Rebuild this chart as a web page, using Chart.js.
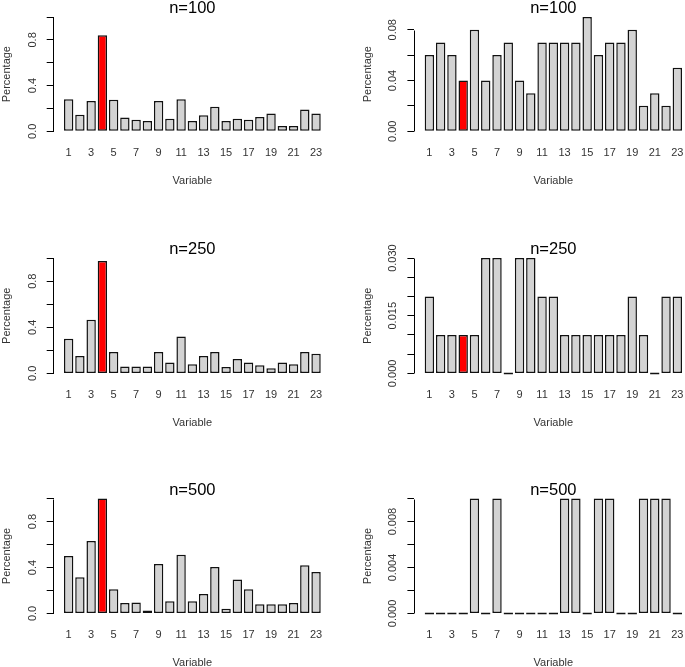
<!DOCTYPE html>
<html>
<head>
<meta charset="utf-8">
<script src="https://cdn.jsdelivr.net/npm/chart.js@4"></script>
<style>
html, body { margin: 0; padding: 0; background: #fff; overflow: hidden; width: 685px; height: 667px; }
#wrap { position: relative; width: 685px; height: 667px; overflow: hidden; background: #fff; }
#wrap canvas { position: absolute; }
</style>
</head>
<body>
<div id="wrap"></div>
<script>
// ---------------- data ----------------
const categories = ['1','2','3','4','5','6','7','8','9','10','11','12','13','14','15','16','17','18','19','20','21','22','23'];
const xTickLabels = ['1','3','5','7','9','11','13','15','17','19','21','23'];
const highlightCategory = '4';

const titles = ['n=100', 'n=250', 'n=500'];

// left column
const pctLeft100 = [0.28,0.145,0.265,0.84,0.275,0.12,0.10,0.09,0.265,0.11,0.28,0.09,0.14,0.215,0.09,0.11,0.10,0.125,0.155,0.045,0.045,0.19,0.155];
const pctLeft250 = [0.30,0.15,0.465,0.975,0.185,0.06,0.06,0.06,0.185,0.095,0.32,0.08,0.15,0.185,0.055,0.125,0.095,0.07,0.045,0.095,0.08,0.185,0.17];
const pctLeft500 = [0.50,0.315,0.63,1.0,0.21,0.09,0.095,0.025,0.43,0.105,0.51,0.105,0.17,0.405,0.04,0.295,0.21,0.08,0.08,0.08,0.09,0.42,0.36];

// right column
const pctRight100 = [0.06,0.07,0.06,0.04,0.08,0.04,0.06,0.07,0.04,0.03,0.07,0.07,0.07,0.07,0.09,0.06,0.07,0.07,0.08,0.02,0.03,0.02,0.05];
const pctRight250 = [0.02,0.01,0.01,0.01,0.01,0.03,0.03,0,0.03,0.03,0.02,0.02,0.01,0.01,0.01,0.01,0.01,0.01,0.02,0.01,0,0.02,0.02];
const pctRight500 = [0,0,0,0,0.01,0,0.01,0,0,0,0,0,0.01,0.01,0,0.01,0.01,0,0,0.01,0.01,0.01,0];

// y-axis limits and ticks
const yLimitLeft = 1.0;
const yTicksLeft = [0,0.2,0.4,0.6,0.8,1.0];
const yTickLabelsLeft = ['0.0','','0.4','','0.8',''];

const yLimitRight100 = 0.09;
const yTicksRight100 = [0,0.02,0.04,0.06,0.08];
const yTickLabelsRight100 = ['0.00','','0.04','','0.08'];

const yLimitRight250 = 0.03;
const yTicksRight250 = [0,0.005,0.01,0.015,0.02,0.025,0.03];
const yTickLabelsRight250 = ['0.000','','','0.015','','','0.030'];

const yLimitRight500 = 0.01;
const yTicksRight500 = [0,0.002,0.004,0.006,0.008,0.010];
const yTickLabelsRight500 = ['0.000','','0.004','','0.008',''];

const xAxisTitle = 'Variable';
const yAxisTitle = 'Percentage';

// ---------------- layout / style ----------------
const FONT = "'Liberation Sans', Arial, Helvetica, sans-serif";
const AXIS_FONT_SIZE = 11;
const TITLE_FONT_SIZE = 16.5;
const TITLE_PAD_BOTTOM = -4.25;
const TEXT_COLOR = '#333';
const BAR_GREY = '#D3D3D3';
const BAR_RED = '#FF0000';

const colL = [53.7, 414.4];
const colR = [331.0, 692.3];
const colX = [0, 342];
const colW = [342, 352];
const rowT = [12.5, 253.5, 494];
const rowB = [135.8, 378, 618];
const XAXIS_H = 51.6;
const YAXIS_W = 53.1;
const TICK_LEN = 7;
const YLABEL_OFFSET = 21;

const panels = [
  { row: 0, col: 0, title: titles[0], values: pctLeft100, ylim: yLimitLeft, yTicks: yTicksLeft, yLabels: yTickLabelsLeft },
  { row: 0, col: 1, title: titles[0], values: pctRight100, ylim: yLimitRight100, yTicks: yTicksRight100, yLabels: yTickLabelsRight100 },
  { row: 1, col: 0, title: titles[1], values: pctLeft250, ylim: yLimitLeft, yTicks: yTicksLeft, yLabels: yTickLabelsLeft },
  { row: 1, col: 1, title: titles[1], values: pctRight250, ylim: yLimitRight250, yTicks: yTicksRight250, yLabels: yTickLabelsRight250 },
  { row: 2, col: 0, title: titles[2], values: pctLeft500, ylim: yLimitLeft, yTicks: yTicksLeft, yLabels: yTickLabelsLeft },
  { row: 2, col: 1, title: titles[2], values: pctRight500, ylim: yLimitRight500, yTicks: yTicksRight500, yLabels: yTickLabelsRight500 },
];

// R barplot geometry: bar width 1, space 0.2
const BAR_W = 1, SPACE = 0.2;
const xPos = categories.map((c, i) => SPACE + i * (BAR_W + SPACE) + BAR_W / 2);
const xLeftEdge = SPACE;
const xRightEdge = SPACE + (categories.length - 1) * (BAR_W + SPACE) + BAR_W;
const xSpan = xRightEdge - xLeftEdge;
const xMin = xLeftEdge - 0.04 * xSpan;
const xMax = xRightEdge + 0.04 * xSpan;

const measureCtx = document.createElement('canvas').getContext('2d');
measureCtx.font = AXIS_FONT_SIZE + 'px ' + FONT;

function alignPixel(p, w) { const h = w / 2; return Math.round(p - h) + h; }

const yAxisLinePlugin = {
  id: 'yAxisLine',
  afterDraw(chart) {
    const s = chart.scales.y;
    const t = s.ticks;
    if (!t.length) return;
    const ctx = chart.ctx;
    const x = alignPixel(s.right, 1);
    const y0 = s.getPixelForValue(t[0].value);
    const y1 = s.getPixelForValue(t[t.length - 1].value);
    ctx.save();
    ctx.strokeStyle = '#000';
    ctx.lineWidth = 1;
    ctx.beginPath();
    ctx.moveTo(x, Math.round(y0) + 0.5);
    ctx.lineTo(x, Math.round(y1) + 0.5);
    ctx.stroke();
    ctx.restore();
  }
};

const wrap = document.getElementById('wrap');

panels.forEach((p) => {
  const L = colL[p.col], R = colR[p.col], T = rowT[p.row], B = rowB[p.row];
  const cx = colX[p.col], cw = colW[p.col];
  const titleBox = TITLE_FONT_SIZE + TITLE_PAD_BOTTOM;
  const cy = Math.round(T) - 16;
  const pt = T - titleBox - cy;
  const ch = Math.ceil(B + XAXIS_H - cy) + 1;
  const pb = ch - (B + XAXIS_H - cy);
  const pl = L - YAXIS_W - cx;
  const pr = cx + cw - R;

  const canvas = document.createElement('canvas');
  canvas.width = cw; canvas.height = ch;
  canvas.style.left = cx + 'px'; canvas.style.top = cy + 'px';
  canvas.style.width = cw + 'px'; canvas.style.height = ch + 'px';
  wrap.appendChild(canvas);

  const widest = Math.max(...p.yLabels.map(l => measureCtx.measureText(l).width));
  const yPad = YLABEL_OFFSET - TICK_LEN - widest / 2;

  new Chart(canvas, {
    type: 'bar',
    data: {
      labels: xPos,
      datasets: [{
        data: p.values,
        backgroundColor: categories.map(c => c === highlightCategory ? BAR_RED : BAR_GREY),
        borderColor: '#111',
        borderWidth: 1.5,
        borderSkipped: false,
        minBarLength: 2,
        categoryPercentage: 1,
        barPercentage: BAR_W / (BAR_W + SPACE),
        clip: false
      }]
    },
    options: {
      responsive: false,
      animation: false,
      devicePixelRatio: 1,
      layout: { padding: { left: pl, right: pr, top: pt, bottom: pb } },
      plugins: {
        legend: { display: false },
        tooltip: { enabled: false },
        title: {
          display: true,
          text: p.title,
          fullSize: false,
          color: '#000',
          font: { family: FONT, size: TITLE_FONT_SIZE, weight: 'normal', lineHeight: 1 },
          padding: { top: 0, bottom: TITLE_PAD_BOTTOM }
        }
      },
      scales: {
        x: {
          type: 'linear',
          position: 'bottom',
          min: xMin, max: xMax,
          offset: false,
          grid: { display: false, drawTicks: false, offset: false },
          border: { display: false },
          afterBuildTicks: (s) => {
            s.ticks = categories
              .map((c, i) => ({ value: xPos[i], c }))
              .filter(t => xTickLabels.includes(t.c))
              .map(t => ({ value: t.value }));
          },
          afterFit: (s) => { s.height = XAXIS_H; },
          ticks: {
            autoSkip: false, maxRotation: 0, minRotation: 0,
            padding: 10.4,
            color: TEXT_COLOR,
            font: { family: FONT, size: AXIS_FONT_SIZE },
            callback: (v) => {
              const i = xPos.findIndex(x => Math.abs(x - v) < 1e-6);
              return i >= 0 ? categories[i] : '';
            }
          },
          title: {
            display: true, text: xAxisTitle, color: TEXT_COLOR,
            font: { family: FONT, size: AXIS_FONT_SIZE },
            padding: 0
          }
        },
        y: {
          type: 'linear',
          min: -0.04 * p.ylim, max: 1.04 * p.ylim,
          bounds: 'data',
          grid: { display: true, drawOnChartArea: false, drawTicks: true, tickLength: TICK_LEN, color: '#000', lineWidth: 1 },
          border: { display: false },
          afterBuildTicks: (s) => { s.ticks = p.yTicks.map(v => ({ value: v })); },
          afterFit: (s) => { s.width = YAXIS_W; },
          ticks: {
            autoSkip: false,
            minRotation: 90, maxRotation: 90,
            crossAlign: 'center',
            padding: yPad,
            color: TEXT_COLOR,
            font: { family: FONT, size: AXIS_FONT_SIZE },
            callback: (v, i) => p.yLabels[i]
          },
          title: {
            display: true, text: yAxisTitle, color: TEXT_COLOR,
            font: { family: FONT, size: AXIS_FONT_SIZE },
            padding: 0
          }
        }
      }
    },
    plugins: [yAxisLinePlugin]
  });
});
</script>
</body>
</html>
